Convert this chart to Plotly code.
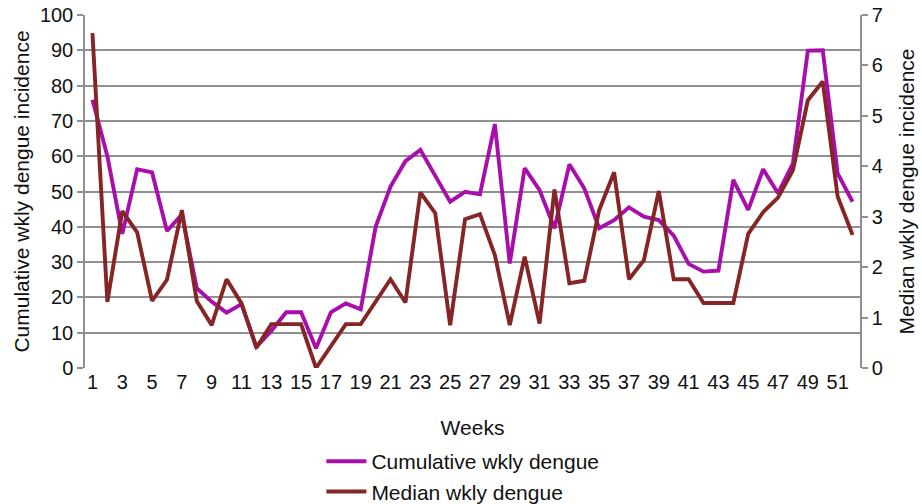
import plotly.graph_objects as go

weeks = list(range(1, 53))

cumulative_wkly = [
    76, 60, 38, 56.3, 55.4, 38.8, 43.5, 22.6, 18.8, 15.7,
    18.1, 6.0, 10.5, 15.8, 15.8, 5.6, 15.8, 18.3, 16.6, 40,
    51.4, 58.6, 61.8, 54.2, 47.1, 49.9, 49.2, 69.1, 29.6, 56.6,
    50.4, 39.6, 57.7, 50.9, 39.6, 41.9, 45.5, 42.9, 41.9, 37.5,
    29.5, 27.3, 27.6, 53.3, 44.8, 56.3, 49.5, 58, 89.9, 90,
    55.1, 47.1,
]

median_wkly = [
    6.64, 1.31, 3.11, 2.69, 1.33, 1.75, 3.13, 1.33, 0.85, 1.76,
    1.28, 0.40, 0.87, 0.87, 0.87, 0.0, 0.42, 0.87, 0.87, 1.31,
    1.76, 1.30, 3.48, 3.07, 0.85, 2.95, 3.05, 2.24, 0.85, 2.21,
    0.88, 3.54, 1.68, 1.73, 3.13, 3.88, 1.76, 2.14, 3.51, 1.76,
    1.76, 1.29, 1.29, 1.29, 2.66, 3.09, 3.38, 3.92, 5.31, 5.68,
    3.40, 2.64,
]

left_ticks = list(range(0, 101, 10))
right_ticks = list(range(0, 8))
week_ticks = list(range(1, 52, 2))

FONT = "Liberation Sans, Arial, sans-serif"
GRID = "#909090"
TICK_SIZE = 20
TITLE_SIZE = 21

fig = go.Figure()
fig.add_trace(go.Scatter(
    x=weeks, y=cumulative_wkly, mode="lines",
    name="Cumulative wkly dengue",
    line=dict(color="#a80eac", width=3.9),
    yaxis="y",
))
fig.add_trace(go.Scatter(
    x=weeks, y=median_wkly, mode="lines",
    name="Median wkly dengue",
    line=dict(color="#852525", width=3.9),
    yaxis="y2",
))

fig.update_layout(
    width=922, height=504,
    margin=dict(l=85, r=62, t=15, b=136, autoexpand=False),
    paper_bgcolor="white",
    plot_bgcolor="white",
    font=dict(family=FONT, size=TICK_SIZE, color="#111111"),
    showlegend=True,
    legend=dict(
        orientation="v",
        x=0.305, xanchor="left",
        y=-0.207, yanchor="top",
        font=dict(size=TITLE_SIZE, color="#111111"),
        bgcolor="rgba(0,0,0,0)",
        tracegroupgap=0,
        itemwidth=40,
    ),
    xaxis=dict(
        range=[0.5, 52.5],
        tickmode="array", tickvals=week_ticks,
        ticktext=[str(w) for w in week_ticks],
        showgrid=False, zeroline=False,
        showline=False, ticks="",
        tickfont=dict(size=TICK_SIZE),
        title=dict(text="Weeks", font=dict(size=TITLE_SIZE), standoff=28),
    ),
    yaxis=dict(
        range=[0, 100],
        tickmode="array", tickvals=left_ticks,
        showgrid=True, gridcolor=GRID, gridwidth=1.5,
        zeroline=False,
        showline=True, linecolor=GRID, linewidth=1.5,
        ticks="outside", ticklen=6, tickcolor=GRID, tickwidth=1.5,
        tickfont=dict(size=TICK_SIZE),
        title=dict(text="Cumulative wkly dengue incidence",
                   font=dict(size=TITLE_SIZE), standoff=5),
    ),
    yaxis2=dict(
        range=[0, 7],
        overlaying="y", side="right",
        tickmode="array", tickvals=right_ticks,
        showgrid=False, zeroline=False,
        showline=True, linecolor=GRID, linewidth=1.5,
        ticks="outside", ticklen=6, tickcolor=GRID, tickwidth=1.5,
        tickfont=dict(size=TICK_SIZE),
        title=dict(text="Median wkly dengue incidence",
                   font=dict(size=TITLE_SIZE), standoff=17),
    ),
)

fig.write_html("out.html")
